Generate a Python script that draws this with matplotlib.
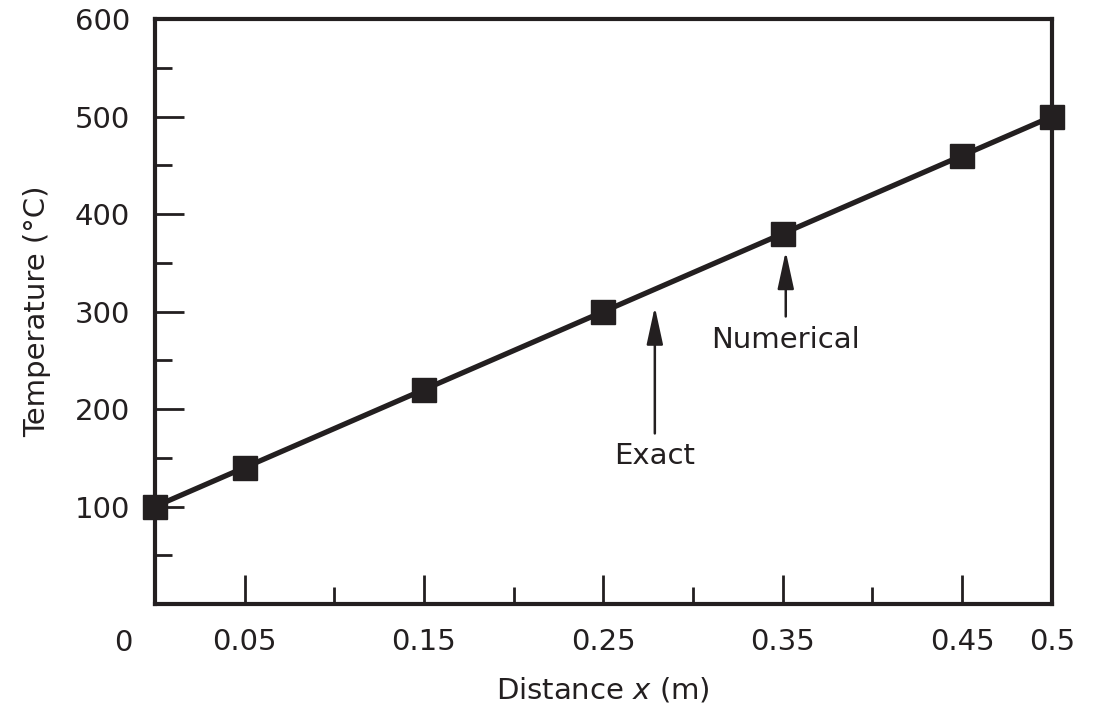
import matplotlib
matplotlib.use("Agg")
import matplotlib.pyplot as plt
import numpy as np

# exact solution (straight line) and numerical nodes
exact_x = [0.0, 0.5]
exact_T = [100, 500]
num_x = [0.0, 0.05, 0.15, 0.25, 0.35, 0.45, 0.5]
num_T = [100, 140, 220, 300, 380, 460, 500]

x_major = [0.05, 0.15, 0.25, 0.35, 0.45, 0.5]
x_major_labels = ["0.05", "0.15", "0.25", "0.35", "0.45", "0.5"]
x_minor = [0.1, 0.2, 0.3, 0.4]
y_major = [100, 200, 300, 400, 500, 600]
y_minor = [50, 150, 250, 350, 450, 550]

plt.rcParams['font.family'] = ['DejaVu Sans']
plt.rcParams['mathtext.fontset'] = 'dejavusans'

ink = "#231f20"
fs = 21
fig = plt.figure(figsize=(10.99, 7.11), dpi=100)
ax = fig.add_axes([0.141, 0.1505, 0.816, 0.8225])

ax.plot(exact_x, exact_T, color=ink, linewidth=3.8, solid_capstyle='butt', zorder=3)
ax.plot(num_x, num_T, linestyle='none', marker='s', markersize=17,
        color=ink, clip_on=False, zorder=4)

ax.set_xlim(0, 0.5)
ax.set_ylim(0, 600)
for s in ax.spines.values():
    s.set_linewidth(3)
    s.set_color(ink)

ax.set_xticks(x_major)
ax.set_xticklabels(x_major_labels)
ax.set_xticks(x_minor, minor=True)
ax.set_yticks(y_major)
ax.set_yticks(y_minor, minor=True)
ax.tick_params(which='major', direction='in', length=21, width=2, color=ink,
               labelsize=fs, labelcolor=ink)
ax.tick_params(axis='x', which='major', pad=17)
ax.tick_params(axis='y', which='major', pad=18)
ax.tick_params(which='minor', direction='in', length=12, width=2, color=ink)

ax.annotate("0", xy=(0, 0), xytext=(-16, -18), textcoords='offset points',
            ha='right', va='top', fontsize=fs, color=ink)

ax.set_xlabel("Distance $x$ (m)", fontsize=fs, color=ink, labelpad=14)
ax.set_ylabel("Temperature (°C)", fontsize=fs, color=ink, labelpad=17)

arrow = dict(arrowstyle='-|>,head_length=2.3,head_width=0.5', color=ink, lw=1.8,
             shrinkA=0, shrinkB=0, mutation_scale=10)
ax.annotate("", xy=(0.2787, 305), xytext=(0.2787, 175), arrowprops=arrow)
ax.text(0.2787, 152, "Exact", ha='center', va='center', fontsize=fs, color=ink)
ax.annotate("", xy=(0.3517, 362), xytext=(0.3517, 295), arrowprops=arrow)
ax.text(0.3517, 271, "Numerical", ha='center', va='center', fontsize=fs, color=ink)

fig.savefig("out.png", dpi=100)
